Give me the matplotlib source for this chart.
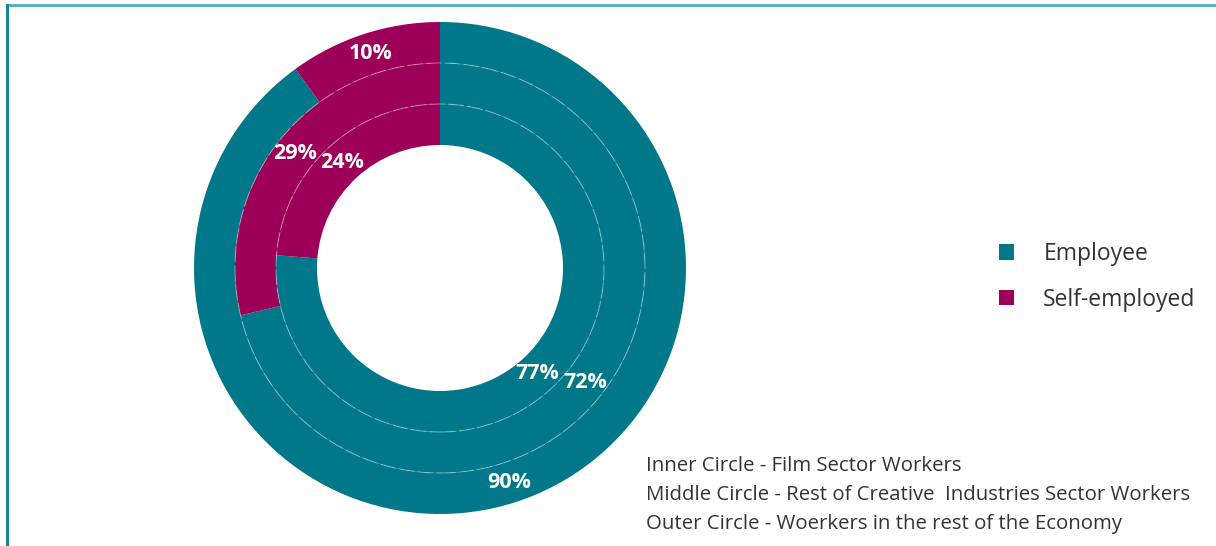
import matplotlib
matplotlib.use("Agg")
import matplotlib.pyplot as plt
from matplotlib.patches import Circle
from matplotlib.lines import Line2D
import numpy as np

# Data
categories = ["Employee", "Self-employed"]
inner_values = [77, 24]    # Film Sector Workers
middle_values = [72, 29]   # Rest of Creative Industries Sector Workers
outer_values = [90, 10]    # Workers in the rest of the Economy
notes = ["Inner Circle - Film Sector Workers",
         "Middle Circle - Rest of Creative  Industries Sector Workers",
         "Outer Circle - Woerkers in the rest of the Economy"]

colors = ["#00788A", "#9C0058"]

W, H = 1216, 546
fig = plt.figure(figsize=(W / 100, H / 100), dpi=100)
fig.patch.set_facecolor("white")

# axes: centre at (440, 268) px, outer radius 246 px
cx, cy, R = 440, 268, 246
ax = fig.add_axes([(cx - R) / W, (H - cy - R) / H, 2 * R / W, 2 * R / H])

ring_w = 41 / 246
rings = [(outer_values, 1.0), (middle_values, 1.0 - ring_w), (inner_values, 1.0 - 2 * ring_w)]
font_lbl = {"family": "Open Sans", "weight": "bold", "size": 15.5, "color": "white"}

legend_handles = None
for vals, r in rings:
    wedges, _ = ax.pie(vals, radius=r, colors=colors, startangle=90, counterclock=False,
                       wedgeprops=dict(width=ring_w, edgecolor="none", linewidth=0))
    if legend_handles is None:
        legend_handles = wedges
    rm = r - ring_w / 2
    for w, v in zip(wedges, vals):
        ang = np.deg2rad((w.theta1 + w.theta2) / 2)
        ax.text(rm * np.cos(ang), rm * np.sin(ang), f"{v}%", ha="center", va="center", **font_lbl)

# thin ring separators
for r in [1.0 - ring_w, 1.0 - 2 * ring_w]:
    ax.add_patch(Circle((0, 0), r, fill=False, edgecolor=(1, 1, 1, 0.35), linewidth=0.8,
                        linestyle=(0, (14, 3))))

ax.set_xlim(-1, 1)
ax.set_ylim(-1, 1)
ax.set_aspect("auto")
ax.axis("off")

# legend
leg = fig.legend(legend_handles, categories, loc="center left",
                 bbox_to_anchor=(978 / W, 1 - 277 / H), frameon=False,
                 prop={"family": "Open Sans", "size": 16.5}, handlelength=0.65, handleheight=0.65,
                 handletextpad=1.3, labelspacing=0.95)
for t in leg.get_texts():
    t.set_color("#333333")

# notes
for i, n in enumerate(notes):
    fig.text(646 / W, 1 - (466 + 29 * i) / H, n, ha="left", va="center",
             family="Open Sans", size=14.7, color="#333333")

# frame lines (top and left)
fig.add_artist(Line2D([7 / W, 1], [1 - 5 / H, 1 - 5 / H], transform=fig.transFigure,
                      color="#5EADBB", linewidth=2.2))
fig.add_artist(Line2D([7 / W, 7 / W], [0, 1 - 5 / H], transform=fig.transFigure,
                      color="#1A8595", linewidth=2.2))

fig.savefig("out.png", dpi=100, facecolor="white")
